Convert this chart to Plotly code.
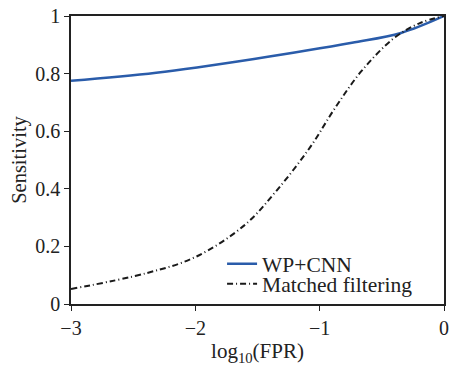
import plotly.graph_objects as go

wp_x = [-3, -2.315, -1.528, -0.74, -0.346, 0]
wp_y = [0.775, 0.803, 0.851, 0.907, 0.941, 1.0]

mf_x = [-3, -2.394, -2.0, -1.606, -1.346, -1.079, -0.874, -0.661, -0.40, -0.19, 0]
mf_y = [0.052, 0.107, 0.163, 0.273, 0.394, 0.543, 0.682, 0.81, 0.924, 0.976, 1.0]

x_ticks = [-3, -2, -1, 0]
y_ticks = [0, 0.2, 0.4, 0.6, 0.8, 1]
y_labels = ["0", "0.2", "0.4", "0.6", "0.8", "1"]

font = "Liberation Serif"

fig = go.Figure()
fig.add_trace(go.Scatter(x=wp_x, y=wp_y, mode="lines", name="WP+CNN", legend="legend",
                         line=dict(color="#2a5caa", width=2.5, shape="spline")))
fig.add_trace(go.Scatter(x=mf_x, y=mf_y, mode="lines", name="Matched filtering", legend="legend2",
                         line=dict(color="#1a1a1a", width=2, dash="6px,3px,1px,3px", shape="spline")))

axis_common = dict(showline=True, linecolor="#222", linewidth=1.5, mirror=True,
                   ticks="outside", ticklen=5, tickcolor="#222", showgrid=False,
                   zeroline=False, automargin=False, ticklabeloverflow="allow",
                   tickfont=dict(family=font, size=20, color="#222"))

leg_common = dict(xanchor="left", yanchor="middle", bgcolor="rgba(0,0,0,0)",
                  font=dict(family=font, size=21.5, color="#222"), itemwidth=30)

fig.update_layout(
    width=441, height=360,
    margin=dict(l=63, r=5, t=8, b=64),
    paper_bgcolor="white", plot_bgcolor="white",
    font=dict(family=font, size=20, color="#222"),
    xaxis=dict(range=[-3, 0], tickvals=x_ticks,
               title=dict(text="log<sub>10</sub>(FPR)", font=dict(family=font, size=21), standoff=6),
               **axis_common),
    yaxis=dict(range=[0, 1], tickvals=y_ticks, ticktext=y_labels,
               title=dict(text="Sensitivity", font=dict(family=font, size=20.5), standoff=6),
               **axis_common),
    legend=dict(x=0.405, y=0.14, **leg_common),
    legend2=dict(x=0.405, y=0.07, **leg_common),
    showlegend=True,
)

fig.write_html("out.html")
